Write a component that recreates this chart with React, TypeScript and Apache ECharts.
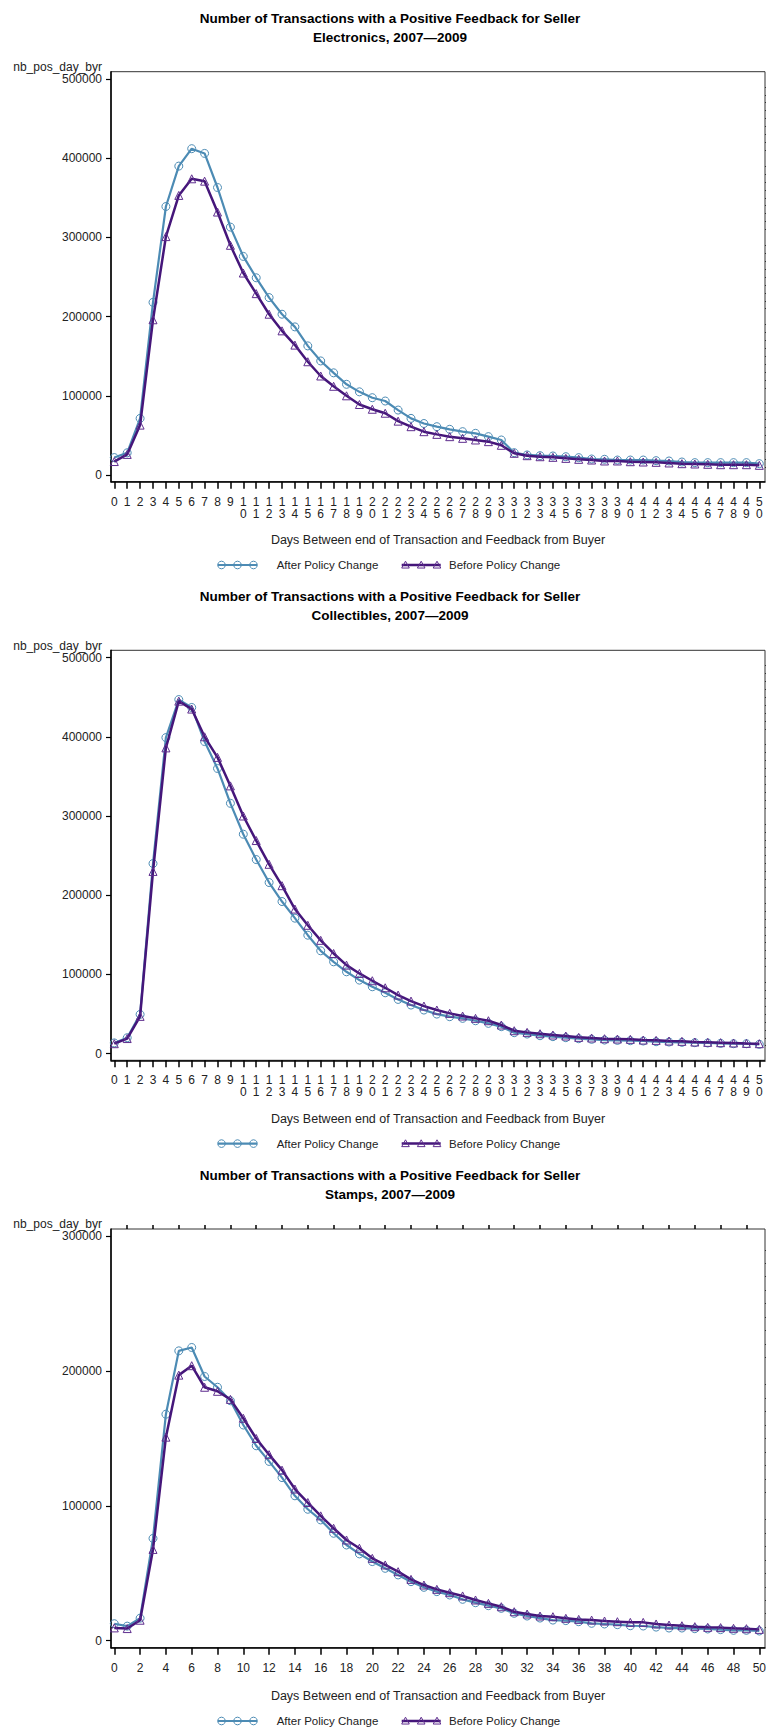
import React, { useEffect, useRef } from "react";
import * as echarts from "echarts";

// Days between end of transaction and buyer feedback (x axis)
const days = [
  0, 1, 2, 3, 4, 5, 6, 7, 8, 9, 10, 11, 12, 13, 14, 15, 16, 17, 18, 19, 20, 21, 22, 23, 24, 25,
  26, 27, 28, 29, 30, 31, 32, 33, 34, 35, 36, 37, 38, 39, 40, 41, 42, 43, 44, 45, 46, 47, 48, 49, 50,
];

// Electronics
const electronicsAfter = [
  22000, 28000, 71500, 218000, 339000, 390000, 412000, 406000, 363000, 313000, 276000, 249000,
  224000, 203000, 187000, 163000, 144000, 129000, 114500, 105000, 97600, 93400, 82000, 71500,
  65000, 61000, 57700, 54700, 52600, 48400, 44200, 28200, 25300, 24400, 24000, 23100, 21900,
  20200, 19800, 18900, 18900, 18900, 18100, 17700, 16400, 15600, 15600, 15600, 15600, 15600, 14300,
];
const electronicsBefore = [
  17000, 26000, 63000, 196000, 301000, 353000, 374000, 371000, 332000, 290000, 255000, 229000,
  203000, 182000, 164000, 143000, 125000, 112000, 100000, 89000, 83000, 78000, 68000, 61000,
  54700, 51300, 48400, 46300, 44200, 42100, 37500, 27400, 24400, 23100, 22300, 21000, 19800,
  18900, 17700, 17700, 16800, 16400, 16000, 15200, 14300, 13900, 13500, 13000, 13000, 13000, 12200,
];

// Collectibles
const collectiblesAfter = [
  13500, 20000, 49500, 240000, 399000, 447000, 437000, 394000, 360000, 316000, 277000, 245000,
  216000, 192000, 171000, 149500, 129800, 115900, 103300, 92800, 84400, 76800, 68400, 61300,
  55000, 49900, 46600, 44500, 41500, 38200, 34000, 26400, 24700, 22600, 21400, 20100, 18800,
  18000, 17100, 16700, 16300, 15900, 15000, 14600, 14200, 13800, 13400, 12900, 12500, 12500, 11700,
];
const collectiblesBefore = [
  12500, 19000, 47000, 230000, 386000, 445000, 435000, 400000, 374000, 338000, 300000, 269000,
  239000, 212000, 182500, 162000, 143000, 126400, 111700, 101200, 92000, 83100, 73900, 66300,
  60000, 55000, 50800, 47400, 44500, 41500, 36100, 28900, 26800, 25100, 23500, 22200, 20500,
  19700, 18800, 18400, 18000, 17100, 16700, 15900, 15500, 14600, 14200, 13800, 13400, 12900, 12500,
];

// Stamps
const stampsAfter = [
  12600, 10800, 16700, 75900, 168000, 215000, 217500, 196000, 188000, 178000, 160000, 144600,
  133000, 121000, 107500, 97500, 89600, 79700, 71000, 64400, 58700, 53700, 48800, 43800, 39600,
  36400, 33900, 30700, 28200, 26000, 24000, 20300, 18300, 16800, 15300, 14900, 14100, 12900,
  12400, 11900, 11100, 10900, 10100, 9400, 9400, 8900, 8700, 8200, 7700, 7700, 7200,
];
const stampsBefore = [
  9500, 9000, 15200, 67700, 151000, 197000, 204000, 188000, 185000, 179000, 165000, 150000,
  138000, 126500, 112500, 102500, 92600, 83400, 74700, 68600, 61100, 56200, 51200, 45500, 41300,
  38100, 35600, 33200, 30200, 27700, 25200, 21500, 19800, 18300, 17800, 16600, 15800, 15300,
  14600, 14100, 13600, 13600, 12400, 11600, 11100, 10400, 9900, 9700, 9200, 8900, 8400,
];

// Tick labels
const yTicksLarge = [0, 100000, 200000, 300000, 400000, 500000];
const yTicksStamps = [0, 100000, 200000, 300000];
const xTicksEven = [0, 2, 4, 6, 8, 10, 12, 14, 16, 18, 20, 22, 24, 26, 28, 30, 32, 34, 36, 38, 40, 42, 44, 46, 48, 50];
const xTicksOdd = [1, 3, 5, 7, 9, 11, 13, 15, 17, 19, 21, 23, 25, 27, 29, 31, 33, 35, 37, 39, 41, 43, 45, 47, 49];

const sellers = ["Electronics", "Collectibles", "Stamps"];
const seriesNames = ["After Policy Change", "Before Policy Change"];
const titleText = "Number of Transactions with a Positive Feedback for Seller";
const yAxisName = "nb_pos_day_byr";
const xAxisName = "Days Between end of Transaction and Feedback from Buyer";

const FONT = '"Liberation Sans", Arial, Helvetica, sans-serif';
const AFTER_COLOR = "#4C8BB4";
const BEFORE_COLOR = "#45167A";
const BEFORE_MARK = "#5E2D8E";
const TEXT_COLOR = "#222222";

const GRID_LEFT = 111;
const GRID_WIDTH = 654;
const X_MIN = -0.256;
const X_MAX = 50.44;
const CENTER_X = 390;

type Panel = {
  after: number[];
  before: number[];
  top: number;
  height: number;
  yMin: number;
  yMax: number;
  yTicks: number[];
  everyDay: boolean;
};

const panels: Panel[] = [
  { after: electronicsAfter, before: electronicsBefore, top: 71.7, height: 410, yMin: -8460, yMax: 509200, yTicks: yTicksLarge, everyDay: true },
  { after: collectiblesAfter, before: collectiblesBefore, top: 650.3, height: 410, yMin: -8460, yMax: 509200, yTicks: yTicksLarge, everyDay: true },
  { after: stampsAfter, before: stampsBefore, top: 1229, height: 418.7, yMin: -5193, yMax: 305400, yTicks: yTicksStamps, everyDay: false },
];

// Minor tick positions every 10000 between the labelled ticks
function minorValues(maxTick: number): number[] {
  const out: number[] = [];
  for (let v = 10000; v < maxTick; v += 10000) {
    if (v % 100000 !== 0) out.push(v);
  }
  return out;
}

function triangle(cx: number, cy: number, r: number) {
  return [
    [cx, cy - r],
    [cx - r, cy + r * 0.8],
    [cx + r, cy + r * 0.8],
  ];
}

function buildOption() {
  const grid: any[] = [];
  const xAxis: any[] = [];
  const yAxis: any[] = [];
  const series: any[] = [];
  const graphic: any[] = [];

  panels.forEach((p, i) => {
    const bottom = p.top + p.height;
    grid.push({
      left: GRID_LEFT,
      top: p.top,
      width: GRID_WIDTH,
      height: p.height,
      show: true,
      borderColor: "#333",
      borderWidth: 1,
      backgroundColor: "transparent",
      containLabel: false,
      outerBoundsMode: "none",
    });

    const majorX = xAxis.length;
    const dayTicks = p.everyDay ? days : xTicksEven;
    xAxis.push({
      type: "value",
      gridIndex: i,
      min: X_MIN,
      max: X_MAX,
      splitLine: { show: false },
      axisLine: { show: true, onZero: false, lineStyle: { color: "#000", width: 1.5 } },
      axisTick: { show: true, customValues: dayTicks, length: 7, lineStyle: { color: "#000", width: 1.5 } },
      axisLabel: {
        show: true,
        customValues: dayTicks,
        margin: 14,
        fontSize: 12,
        lineHeight: 12,
        fontFamily: FONT,
        color: TEXT_COLOR,
        formatter: (v: number) => {
          const s = String(Math.round(v));
          return p.everyDay ? s.split("").join("\n") : s;
        },
      },
    });
    if (!p.everyDay) {
      xAxis.push({
        type: "value",
        gridIndex: i,
        min: X_MIN,
        max: X_MAX,
        splitLine: { show: false },
        axisLine: { show: false, onZero: false },
        axisTick: { show: true, customValues: xTicksOdd, length: 4, lineStyle: { color: "#000", width: 1.5 } },
        axisLabel: { show: false },
      });
    }

    const majorY = yAxis.length;
    yAxis.push({
      type: "value",
      gridIndex: i,
      min: p.yMin,
      max: p.yMax,
      splitLine: { show: false },
      axisLine: { show: true, onZero: false, lineStyle: { color: "#000", width: 1.5 } },
      axisTick: { show: true, customValues: p.yTicks, length: 5, lineStyle: { color: "#000", width: 1.2 } },
      axisLabel: {
        show: true,
        customValues: p.yTicks,
        margin: 9,
        fontSize: 12,
        fontFamily: FONT,
        color: TEXT_COLOR,
        formatter: (v: number) => String(Math.round(v)),
      },
    });
    yAxis.push({
      type: "value",
      gridIndex: i,
      min: p.yMin,
      max: p.yMax,
      splitLine: { show: false },
      axisLine: { show: false, onZero: false },
      axisTick: { show: true, customValues: minorValues(p.yTicks[p.yTicks.length - 1]), length: 2.5, lineStyle: { color: "#333", width: 1 } },
      axisLabel: { show: false },
    });

    series.push({
      type: "line",
      name: seriesNames[0],
      xAxisIndex: majorX,
      yAxisIndex: majorY,
      data: days.map((d, k) => [d, p.after[k]]),
      symbol: "circle",
      symbolSize: 8,
      showAllSymbol: true,
      lineStyle: { color: AFTER_COLOR, width: 2.2 },
      itemStyle: { color: "rgba(255,255,255,0)", borderColor: AFTER_COLOR, borderWidth: 1 },
      emphasis: { disabled: true },
      z: 2,
    });
    series.push({
      type: "line",
      name: seriesNames[1],
      xAxisIndex: majorX,
      yAxisIndex: majorY,
      data: days.map((d, k) => [d, p.before[k]]),
      symbol: "triangle",
      symbolSize: 8,
      showAllSymbol: true,
      lineStyle: { color: BEFORE_COLOR, width: 2.5 },
      itemStyle: { color: "rgba(255,255,255,0)", borderColor: BEFORE_MARK, borderWidth: 1 },
      emphasis: { disabled: true },
      z: 3,
    });

    // Titles
    graphic.push({
      type: "text",
      x: CENTER_X,
      y: p.top - 53.7,
      style: { text: titleText, fontSize: 13.5, fontWeight: "bold", fontFamily: FONT, fill: "#000", textAlign: "center", textVerticalAlign: "middle" },
    });
    graphic.push({
      type: "text",
      x: CENTER_X,
      y: p.top - 34.7,
      style: { text: `${sellers[i]}, 2007\u20142009`, fontSize: 13.5, fontWeight: "bold", fontFamily: FONT, fill: "#000", textAlign: "center", textVerticalAlign: "middle" },
    });
    // Y axis name
    graphic.push({
      type: "text",
      x: 102,
      y: p.top - 4.7,
      style: { text: yAxisName, fontSize: 12, fontFamily: FONT, fill: TEXT_COLOR, textAlign: "right", textVerticalAlign: "middle" },
    });
    // X axis name
    const xTitleY = bottom + (p.everyDay ? 58.3 : 48.3);
    graphic.push({
      type: "text",
      x: GRID_LEFT + GRID_WIDTH / 2,
      y: xTitleY,
      style: { text: xAxisName, fontSize: 12.5, fontFamily: FONT, fill: TEXT_COLOR, textAlign: "center", textVerticalAlign: "middle" },
    });
    // Legend
    const ly = xTitleY + 25;
    graphic.push({ type: "line", shape: { x1: 218, y1: ly, x2: 257, y2: ly }, style: { stroke: AFTER_COLOR, lineWidth: 2.2 } });
    [221.5, 237.5, 253.5].forEach((cx) => {
      graphic.push({ type: "circle", shape: { cx, cy: ly, r: 3.8 }, style: { fill: "none", stroke: AFTER_COLOR, lineWidth: 1 } });
    });
    graphic.push({
      type: "text",
      x: 276.7,
      y: ly,
      style: { text: seriesNames[0], fontSize: 11.5, fontFamily: FONT, fill: TEXT_COLOR, textAlign: "left", textVerticalAlign: "middle" },
    });
    graphic.push({ type: "line", shape: { x1: 401.7, y1: ly, x2: 440.7, y2: ly }, style: { stroke: BEFORE_COLOR, lineWidth: 2.5 } });
    [405.5, 421.2, 437].forEach((cx) => {
      graphic.push({ type: "polygon", shape: { points: triangle(cx, ly, 3.8) }, style: { fill: "none", stroke: BEFORE_MARK, lineWidth: 1 } });
    });
    graphic.push({
      type: "text",
      x: 449,
      y: ly,
      style: { text: seriesNames[1], fontSize: 11.5, fontFamily: FONT, fill: TEXT_COLOR, textAlign: "left", textVerticalAlign: "middle" },
    });
  });

  return {
    animation: false,
    backgroundColor: "#ffffff",
    grid,
    xAxis,
    yAxis,
    series,
    graphic,
  };
}

export default function App() {
  const ref = useRef<HTMLDivElement>(null);

  useEffect(() => {
    if (!ref.current) return;
    const chart = echarts.init(ref.current, undefined, { renderer: "svg" });
    chart.setOption(buildOption() as any);
    return () => chart.dispose();
  }, []);

  return (
    <div
      ref={ref}
      style={{ position: "absolute", left: 0, top: 0, width: 766, height: 1731, background: "#fff" }}
    />
  );
}
